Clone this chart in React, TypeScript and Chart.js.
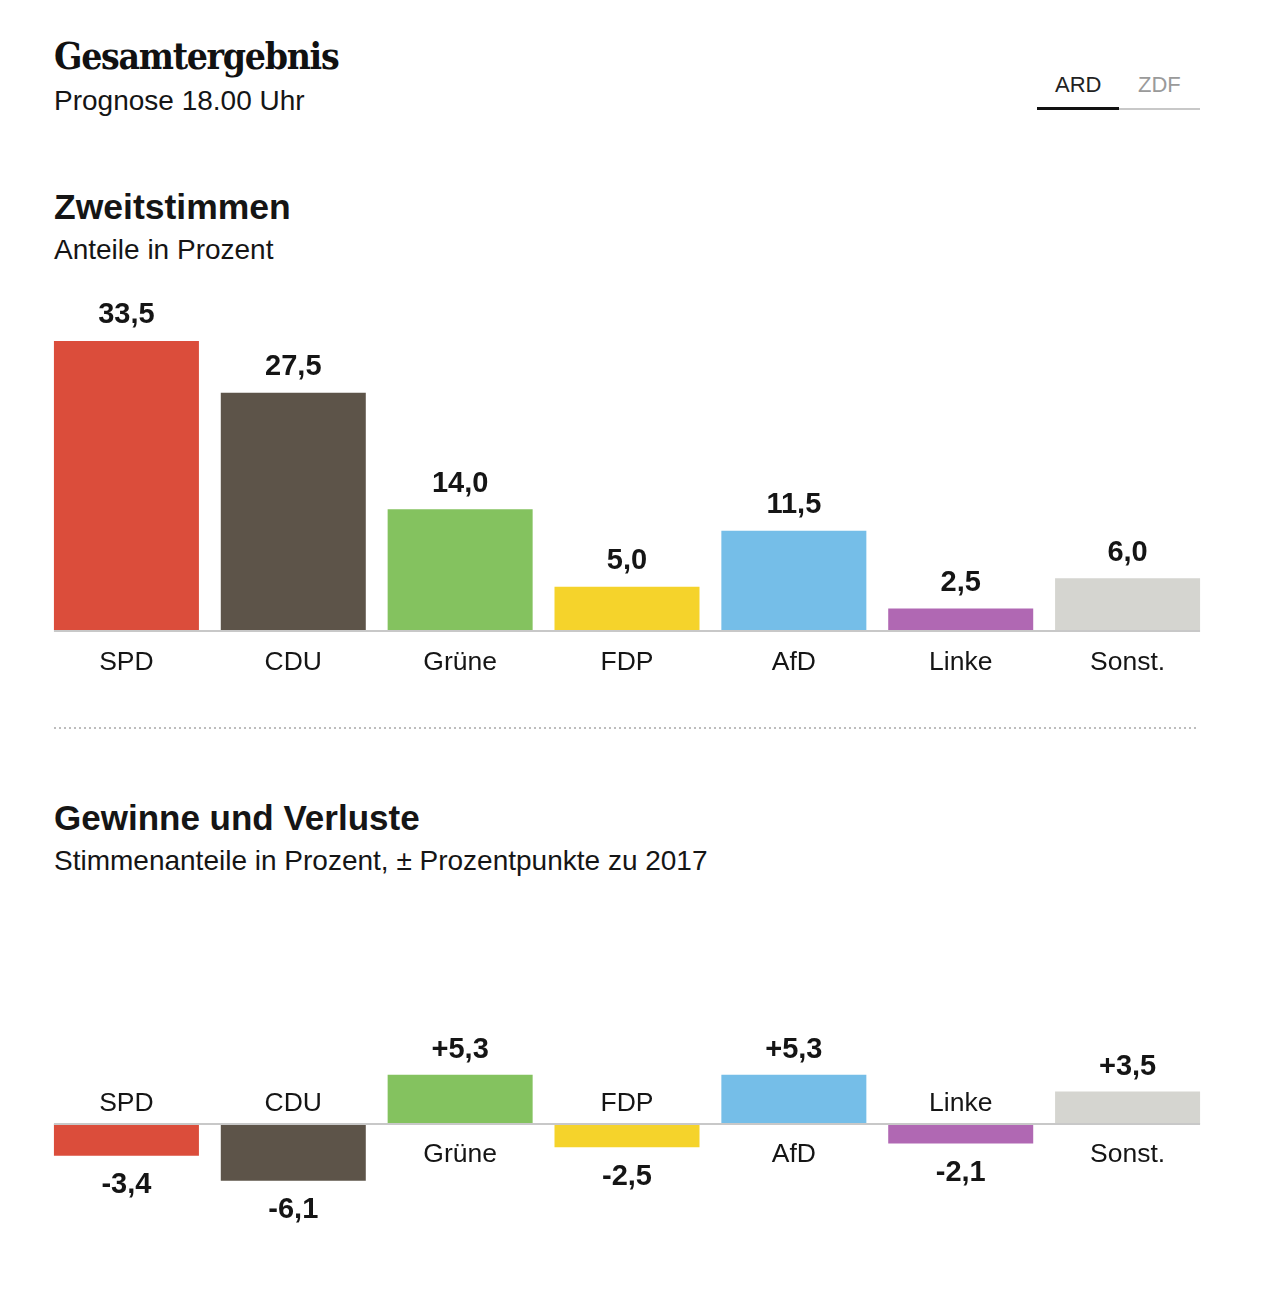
import React, { useEffect, useRef } from "react";
import { Chart, registerables } from "chart.js";

Chart.register(...registerables);

const parties = ["SPD", "CDU", "Grüne", "FDP", "AfD", "Linke", "Sonst."];
const shares = [33.5, 27.5, 14.0, 5.0, 11.5, 2.5, 6.0];
const changes = [-3.4, -6.1, 5.3, -2.5, 5.3, -2.1, 3.5];
const partyColors = ["#db4d3b", "#5d5449", "#84c25f", "#f5d32b", "#75bee8", "#b068b3", "#d5d5d0"];
const tabLabels = ["ARD", "ZDF"];

const SANS = '"Liberation Sans", Arial, sans-serif';
const TEXT = "#151515";

const fmt = (v: number, signed: boolean) => {
  const s = Math.abs(v).toFixed(1).replace(".", ",");
  if (v < 0) return "-" + s;
  return (signed ? "+" : "") + s;
};

const makeLabelPlugin = (signed: boolean) => ({
  id: "barLabels",
  afterDatasetsDraw(chart: any) {
    const ctx = chart.ctx;
    const meta = chart.getDatasetMeta(0);
    const data = chart.data.datasets[0].data as number[];
    const cats = chart.data.labels as string[];
    const els = meta.data as any[];
    const first = els[0];
    const last = els[els.length - 1];
    const baseY = first.base;
    const left = first.x - first.width / 2;
    const right = last.x + last.width / 2;
    ctx.save();
    ctx.fillStyle = "#c8c8c8";
    ctx.fillRect(left, baseY - (signed ? 1 : 0), right - left, 2);
    ctx.textAlign = "center";
    ctx.textBaseline = "alphabetic";
    els.forEach((el: any, i: number) => {
      const v = data[i];
      let valueCenter: number;
      let catCenter: number;
      if (v >= 0) {
        valueCenter = el.y - (signed ? 27 : 28);
        catCenter = el.base + (signed ? 28 : 30);
      } else {
        valueCenter = el.y + 27;
        catCenter = el.base - 23;
      }
      ctx.fillStyle = TEXT;
      ctx.font = `bold 29px ${SANS}`;
      ctx.fillText(fmt(v, signed), el.x, valueCenter + 0.36 * 29);
      ctx.font = `26.5px ${SANS}`;
      ctx.fillText(cats[i], el.x, catCenter + 0.36 * 26.5);
    });
    ctx.restore();
  },
});

type PanelProps = {
  values: number[];
  yMin: number;
  yMax: number;
  padBottom: number;
  signed: boolean;
  top: number;
  height: number;
};

function BarPanel({ values, yMin, yMax, padBottom, signed, top, height }: PanelProps) {
  const ref = useRef<HTMLCanvasElement | null>(null);
  useEffect(() => {
    if (!ref.current) return;
    const chart = new Chart(ref.current, {
      type: "bar",
      data: {
        labels: parties,
        datasets: [
          {
            data: values,
            backgroundColor: partyColors,
            borderWidth: 0,
            categoryPercentage: 1,
            barPercentage: 0.869,
          },
        ],
      },
      options: {
        responsive: false,
        animation: false,
        layout: { padding: { left: 0, right: 0, top: 0, bottom: padBottom } },
        plugins: { legend: { display: false }, tooltip: { enabled: false } },
        scales: {
          x: { display: false, grid: { display: false } },
          y: { display: false, min: yMin, max: yMax, grid: { display: false } },
        },
      },
      plugins: [makeLabelPlugin(signed)],
    });
    return () => chart.destroy();
  }, []);
  return (
    <canvas
      ref={ref}
      width={1168}
      height={height}
      style={{ position: "absolute", left: 43, top, width: 1168, height }}
    />
  );
}

const txt = (
  content: string,
  left: number,
  baseline: number,
  size: number,
  extra: React.CSSProperties = {}
) => (
  <div
    style={{
      position: "absolute",
      left,
      top: baseline - 0.846 * size,
      fontSize: size,
      lineHeight: `${size}px`,
      fontFamily: SANS,
      color: TEXT,
      whiteSpace: "nowrap",
      ...extra,
    }}
  >
    {content}
  </div>
);

export default function App() {
  return (
    <div
      style={{
        position: "absolute",
        left: 0,
        top: 0,
        width: 1280,
        height: 1289,
        background: "#ffffff",
        overflow: "hidden",
      }}
    >
      {txt("Gesamtergebnis", 54, 69, 37, {
        fontFamily: '"DejaVu Serif Condensed", "DejaVu Serif", serif',
        fontWeight: 700,
        letterSpacing: "-1.3px",
        color: "#111",
      })}
      {txt("Prognose 18.00 Uhr", 54, 111, 28)}

      {txt(tabLabels[0], 1055, 93, 22, { color: "#222" })}
      {txt(tabLabels[1], 1138, 93, 22, { color: "#9a9a9a" })}
      <div style={{ position: "absolute", left: 1037, top: 107, width: 82, height: 3, background: "#111" }} />
      <div style={{ position: "absolute", left: 1119, top: 108, width: 81, height: 2, background: "#c8c8c8" }} />

      {txt("Zweitstimmen", 54, 220, 35.5, { fontWeight: 700 })}
      {txt("Anteile in Prozent", 54, 260, 28)}

      <BarPanel values={shares} yMin={0} yMax={39.4} padBottom={60} signed={false} top={290} height={400} />

      <div
        style={{
          position: "absolute",
          left: 54,
          top: 727,
          width: 1142,
          height: 2,
          backgroundImage: "repeating-linear-gradient(to right, #bdbdbd 0 2px, transparent 2px 5px)",
        }}
      />

      {txt("Gewinne und Verluste", 54, 830, 35, { fontWeight: 700 })}
      {txt("Stimmenanteile in Prozent, ± Prozentpunkte zu 2017", 54, 871, 28)}

      <BarPanel values={changes} yMin={-14.62} yMax={13.33} padBottom={0} signed={true} top={1000} height={260} />
    </div>
  );
}
